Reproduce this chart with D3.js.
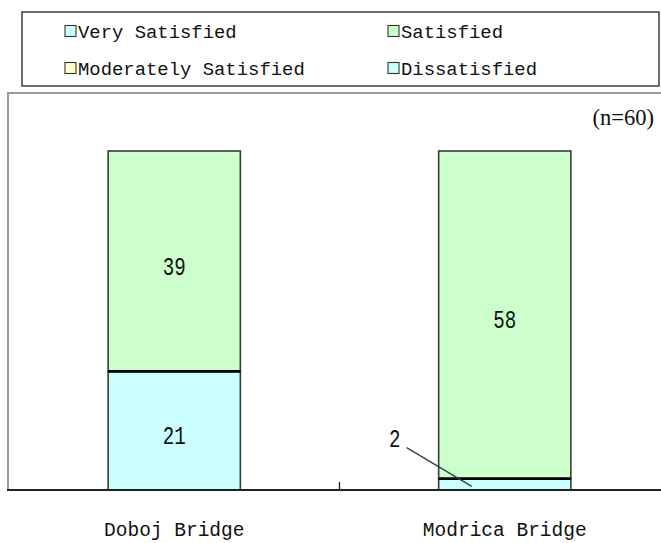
<!DOCTYPE html>
<html>
<head>
<meta charset="utf-8">
<script src="https://cdn.jsdelivr.net/npm/d3@7"></script>
<style>
  html, body { margin: 0; padding: 0; background: #fff; }
  svg { display: block; }
  .gothic { font-family: "Liberation Mono", "DejaVu Sans Mono", monospace; }
  .serif { font-family: "Liberation Serif", "DejaVu Serif", serif; }
</style>
</head>
<body>
<svg id="chart" width="661" height="543"></svg>
<script>
// Satisfaction survey by bridge (respondents per answer)
const categories = ["Doboj Bridge", "Modrica Bridge"];
const seriesNames = ["Very Satisfied", "Satisfied", "Moderately Satisfied", "Dissatisfied"];
const verySatisfied = [21, 2];
const satisfied = [39, 58];
const moderatelySatisfied = [0, 0];
const dissatisfied = [0, 0];
const seriesColors = ["#ccffff", "#ccffcc", "#ffffcc", "#ccffff"];
const sampleNote = "(n=60)";
const valueMax = 60;

const seriesValues = [verySatisfied, satisfied, moderatelySatisfied, dissatisfied];
const rows = categories.map((c, i) => {
  const r = { category: c };
  seriesNames.forEach((s, k) => { r[s] = seriesValues[k][i]; });
  return r;
});
const stacked = d3.stack().keys(seriesNames)(rows);

const svg = d3.select("#chart");
svg.append("rect").attr("width", 661).attr("height", 543).attr("fill", "#fff");

// plot geometry
const plotLeft = 8, plotTop = 93, plotRight = 670, axisY = 490, barTop = 151;
const x = d3.scaleBand().domain(categories).range([9, 670]).paddingInner(0.6).paddingOuter(0.3);
const y = d3.scaleLinear().domain([0, valueMax]).range([axisY, barTop]);

// plot area frame
svg.append("path")
  .attr("d", `M${plotLeft},${axisY} V${plotTop} H${plotRight}`)
  .attr("fill", "none").attr("stroke", "#9a9a9a").attr("stroke-width", 2);

// legend box
const legend = svg.append("g");
legend.append("rect").attr("x", 22).attr("y", 12).attr("width", 637).attr("height", 74)
  .attr("fill", "#fff").attr("stroke", "#222").attr("stroke-width", 1.3);
const legendCols = [65, 388], legendRows = [25.5, 62.5];
seriesNames.forEach((name, k) => {
  const lx = legendCols[k % 2], ly = legendRows[Math.floor(k / 2)];
  legend.append("rect").attr("x", lx).attr("y", ly).attr("width", 11).attr("height", 11)
    .attr("fill", seriesColors[k]).attr("stroke", "#333").attr("stroke-width", 1.1);
  legend.append("text").attr("class", "gothic")
    .attr("x", lx + 13).attr("y", ly + 12.5)
    .attr("font-size", 18.9).attr("fill", "#111").text(name);
});

// stacked bars
const barG = svg.append("g");
stacked.forEach((layer, k) => {
  layer.forEach(d => {
    if (d[1] - d[0] <= 0) return;
    barG.append("rect")
      .attr("x", x(d.data.category)).attr("width", x.bandwidth())
      .attr("y", y(d[1])).attr("height", y(d[0]) - y(d[1]))
      .attr("fill", seriesColors[k]).attr("stroke", "#3a3a3a").attr("stroke-width", 1.6);
  });
});
// boundaries between stacked segments
stacked.forEach((layer, k) => {
  if (k === 0) return;
  layer.forEach(d => {
    if (d[1] - d[0] <= 0 || d[0] <= 0) return;
    barG.append("line")
      .attr("x1", x(d.data.category)).attr("x2", x(d.data.category) + x.bandwidth())
      .attr("y1", y(d[0])).attr("y2", y(d[0]))
      .attr("stroke", "#000").attr("stroke-width", 2.8);
  });
});

// value labels (tall, narrow digits)
const digitWidth = 11.5;
const labelG = svg.append("g").attr("class", "gothic").attr("font-size", 25).attr("fill", "#111");
function valueText(px, py, v) {
  const s = String(v);
  labelG.append("text").attr("x", px).attr("y", py)
    .attr("text-anchor", "middle").attr("dominant-baseline", "central")
    .attr("textLength", s.length * digitWidth).attr("lengthAdjust", "spacingAndGlyphs")
    .text(s);
}
stacked.forEach((layer, k) => {
  layer.forEach(d => {
    const v = d[1] - d[0];
    if (v <= 0) return;
    const cx = x(d.data.category) + x.bandwidth() / 2;
    if (y(d[0]) - y(d[1]) > 30) {
      valueText(cx, (y(d[0]) + y(d[1])) / 2 + 7, v);
    } else {
      // small segment: label placed to the left with a leader line
      const lx = x(d.data.category) - 44, ly = y(d[1]) - 38;
      valueText(lx, ly, v);
      svg.append("line")
        .attr("x1", lx + 12).attr("y1", ly + 7)
        .attr("x2", x(d.data.category) + 33).attr("y2", (y(d[0]) + y(d[1])) / 2 + 2)
        .attr("stroke", "#2f4545").attr("stroke-width", 1.4);
    }
  });
});

// category axis with ticks at band boundaries
svg.append("line").attr("x1", 7).attr("x2", 661).attr("y1", axisY).attr("y2", axisY)
  .attr("stroke", "#222").attr("stroke-width", 2);
const step = x.step();
const boundaries = d3.range(1, categories.length).map(i => x(categories[i]) - step * x.paddingInner() / 2);
svg.selectAll(".tick").data(boundaries).join("line")
  .attr("x1", d => d).attr("x2", d => d).attr("y1", axisY - 8).attr("y2", axisY)
  .attr("stroke", "#222").attr("stroke-width", 1.3);
svg.append("g").attr("class", "gothic").attr("font-size", 19.5).attr("fill", "#111")
  .selectAll("text").data(categories).join("text")
  .attr("x", d => x(d) + x.bandwidth() / 2).attr("y", 536)
  .attr("text-anchor", "middle").text(d => d);

// sample size note
svg.append("text").attr("class", "serif").attr("x", 654).attr("y", 125)
  .attr("text-anchor", "end").attr("font-size", 22.5).attr("fill", "#111").text(sampleNote);
</script>
</body>
</html>
